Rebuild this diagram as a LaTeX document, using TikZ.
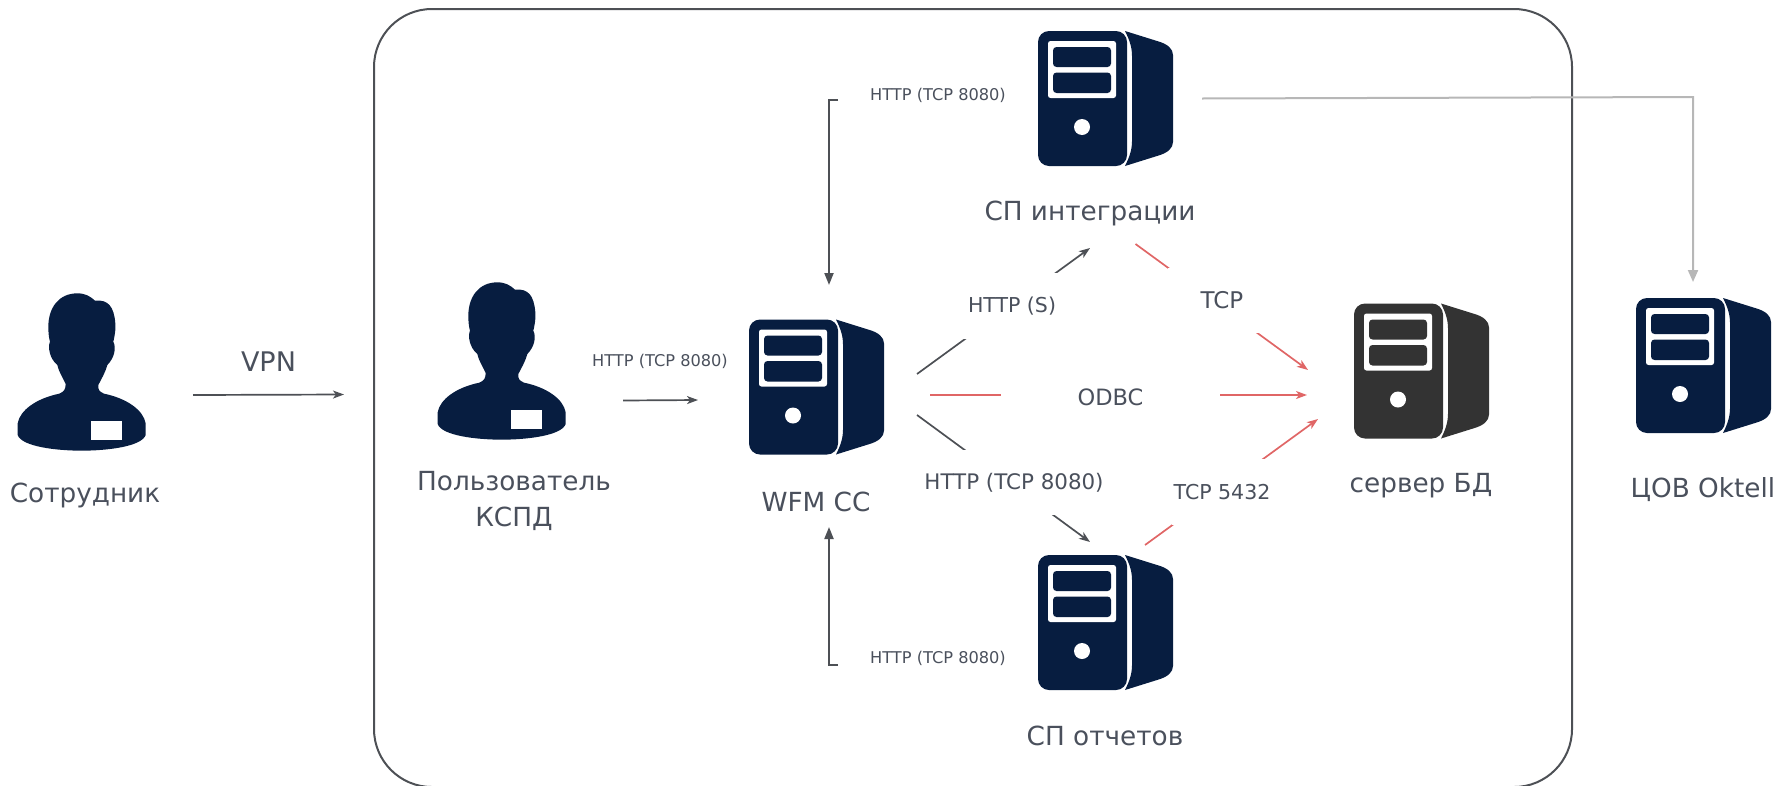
\documentclass[tikz,border=0pt]{standalone}
\usepackage{fontspec}
\setmainfont{DejaVu Sans}
\usetikzlibrary{arrows.meta}
\definecolor{navy}{HTML}{071D40}
\definecolor{darksrv}{HTML}{333333}
\definecolor{txt}{HTML}{4A505C}
\definecolor{linec}{HTML}{4D5055}
\definecolor{redl}{HTML}{E06666}
\definecolor{greyl}{HTML}{B7B7B7}
\tikzset{
  x=1pt,y=-1pt,
  big/.style={font=\fontsize{26.3}{36}\selectfont,text=txt,align=center,inner sep=0pt},
  mid/.style={font=\fontsize{20.5}{24}\selectfont,text=txt,inner sep=0pt,fill=white},
  small/.style={font=\fontsize{16.2}{19}\selectfont,text=txt,inner sep=0pt},
  thin arrow/.style={line width=1.7pt,-{Stealth[length=11pt,width=8pt,inset=3pt]}},
  blk/.style={thin arrow,draw=linec},
  redarrow/.style={thin arrow,draw=redl},
  bracket/.style={line width=2pt,draw=linec,-{Triangle[length=12pt,width=9pt]}},
  frameb/.style={line width=2pt,draw=linec,rounded corners=58pt},
  server/.pic={
    \path[fill=#1,rounded corners=11pt] (0,0) -- (89,0) -- (89,135) -- (0,135) -- cycle;
    \path[fill=#1] (87,0) -- (119,10) .. controls (130,13) and (135,18) .. (135,24)
      -- (135,111) .. controls (135,117) and (130,122) .. (119,125) -- (87,135)
      .. controls (92,125) and (94,118) .. (94,110) -- (94,25) .. controls (94,17) and (92,10) .. (87,0) -- cycle;
    \path[fill=white,rounded corners=2.5pt] (10,10) rectangle (78,67);
    \path[fill=#1,rounded corners=3.5pt] (15,16) rectangle (73,36);
    \path[fill=#1,rounded corners=3.5pt] (15,41.5) rectangle (73,62);
    \path[fill=white] (44,96) circle (8);
  },
  person/.pic={
    \path[fill=navy,scale=1/3] (232,70)
      .. controls (175,70) and (145,115) .. (145,170)
      .. controls (145,190) and (147,205) .. (150,215)
      .. controls (143,230) and (148,265) .. (172,285)
      .. controls (178,310) and (190,325) .. (197,342)
      .. controls (197,358) and (192,365) .. (178,371)
      .. controls (110,385) and (60,420) .. (53,460)
      -- (53,495)
      .. controls (65,530) and (170,542) .. (245,542)
      .. controls (320,542) and (425,530) .. (437,495)
      -- (437,460)
      .. controls (430,420) and (380,385) .. (312,371)
      .. controls (298,365) and (293,358) .. (295,345)
      .. controls (305,325) and (315,310) .. (322,285)
      .. controls (342,265) and (350,235) .. (340,215)
      .. controls (346,190) and (347,175) .. (346,160)
      .. controls (342,110) and (325,88) .. (285,92)
      .. controls (270,78) and (255,70) .. (232,70) -- cycle;
    \path[fill=white,scale=1/3] (273,453) rectangle (366,509);
  }
}
\begin{document}
\begin{tikzpicture}
\useasboundingbox (0,0) rectangle (1782,785);
\begin{scope}
\clip (0,0) rectangle (1782,785);
\draw[frameb] (374,9) rectangle (1572,787);
\end{scope}

% icons
\pic at (0,270) {person};
\pic at (420,259) {person};
\pic at (749,319.5) {server=navy};
\pic at (1038,31) {server=navy};
\pic at (1038,555) {server=navy};
\pic at (1354,303.5) {server=darksrv};
\pic at (1636,298) {server=navy};

% connector ends
\coordinate (vpnA) at (193,395);
\coordinate (vpnB) at (344,394.5);
\coordinate (usrA) at (623,400.5);
\coordinate (usrB) at (698,400);
\coordinate (topA) at (838,100);
\coordinate (topC) at (829,100);
\coordinate (topB) at (829,285);
\coordinate (botA) at (838,665);
\coordinate (botC) at (829,665);
\coordinate (botB) at (829,527);
\coordinate (wfmN) at (917,374);
\coordinate (intS) at (1090,248);
\coordinate (wfmS) at (917,415);
\coordinate (repN) at (1090,542);
\coordinate (wfmE) at (930,395);
\coordinate (dbW) at (1307,395);
\coordinate (intE) at (1135.5,244);
\coordinate (dbNW) at (1308,370);
\coordinate (repE) at (1145,545);
\coordinate (dbSW) at (1318,419);
\coordinate (intR) at (1202,98.5);
\coordinate (okTurn) at (1693,97);
\coordinate (okT) at (1693,282);

% connectors
\draw[blk] (vpnA) -- (vpnB);
\draw[blk] (usrA) -- (usrB);
\draw[bracket] (topA) -- (topC) -- (topB);
\draw[bracket] (botA) -- (botC) -- (botB);
\draw[blk] (wfmN) -- (intS);
\draw[blk] (wfmS) -- (repN);
\draw[redarrow] (wfmE) -- (dbW);
\draw[redarrow] (intE) -- (dbNW);
\draw[redarrow] (repE) -- (dbSW);
\draw[line width=2pt,draw=greyl,-{Triangle[length=12pt,width=10pt]}] (intR) -- (okTurn) -- (okT);

% connector labels (white boxes break the lines, as in the reference)
\node[mid,minimum width=150pt,minimum height=66pt] (lhttps) at (1012,306) {HTTP (S)};
\node[mid,font=\fontsize{21.4}{24}\selectfont,minimum width=178pt,minimum height=65pt] (lhttp) at (1014,482.5) {HTTP (TCP 8080)};
\node[mid,font=\fontsize{22.5}{26}\selectfont,minimum width=219pt,minimum height=40pt] (lodbc) at (1110.5,397) {ODBC};
\node[mid,font=\fontsize{23}{26}\selectfont,minimum width=108pt,minimum height=65pt] (ltcp) at (1222,300.5) {TCP};
\node[mid,minimum width=100pt,minimum height=66pt] (ltcpb) at (1222,492) {TCP 5432};
\node[font=\fontsize{27}{30}\selectfont,text=txt,inner sep=0pt] (lvpn) at (268.5,362) {VPN};
\node[small] (ltop) at (938,95.5) {HTTP (TCP 8080)};
\node[small] (lbot) at (938,658.5) {HTTP (TCP 8080)};
\node[small] (lusr) at (660,361) {HTTP (TCP 8080)};

% names
\node[big] (nemp) at (85,495) {Сотрудник};
\node[big] (nusr) at (514,501) {Пользователь\\КСПД};
\node[big] (nwfm) at (816,501.5) {WFM CC};
\node[big] (nint) at (1090,213.5) {СП интеграции};
\node[big] (nrep) at (1105,736) {СП отчетов};
\node[big] (ndb) at (1421,486) {сервер БД};
\node[big] (nok) at (1703,490) {ЦОВ Oktell};
\end{tikzpicture}
\end{document}
